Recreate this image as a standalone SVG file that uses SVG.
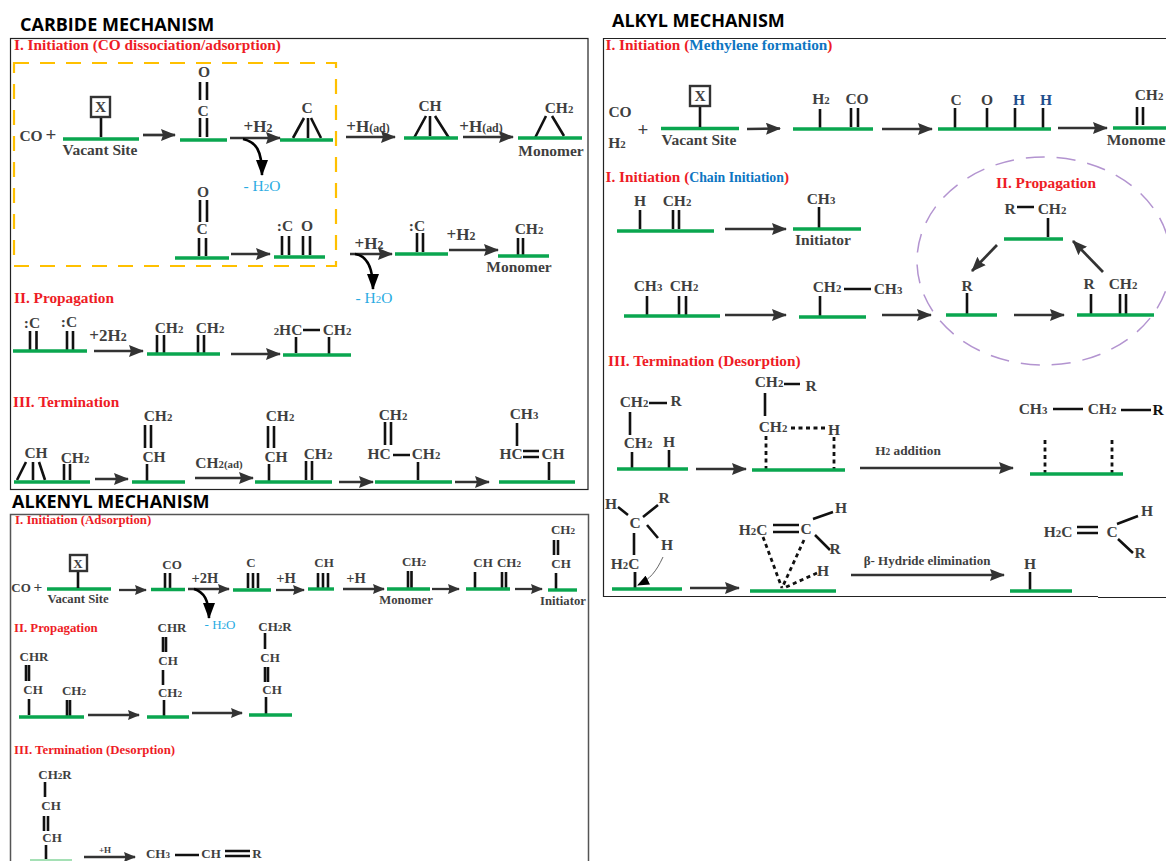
<svg xmlns="http://www.w3.org/2000/svg" width="1166" height="861" viewBox="0 0 1166 861">
<style>
text{font-family:"Liberation Serif","Times New Roman",serif;font-weight:700;fill:#3f3f3f;font-size:15.5px;text-anchor:middle}
.title{font-family:"Open Sans","Noto Sans",sans-serif;fill:#000;font-size:18px;text-anchor:start}
.h{fill:#ee1c25;text-anchor:start;font-size:15.300px}
.hs{font-size:12.800px}
.blue{fill:#0d76c2}
.cy{fill:#29abe2;font-weight:400}
.m{font-size:13px}
.sm{font-size:12.700px}
.l{font-size:17px}
.ls{font-size:14.500px}
.navy{fill:#1f4e8c}
.k{fill:#111}
tspan.u{font-size:70%}
.g{stroke:#0aa64f;stroke-width:3.400;fill:none}
.b{stroke:#111;stroke-width:2.600;fill:none}
.d{stroke:#111;stroke-width:2.800;fill:none;stroke-dasharray:4 3.500}
.a{stroke:#333;stroke-width:2.700;fill:none;marker-end:url(#ah)}
.as{stroke:#333;stroke-width:2.300;fill:none;marker-end:url(#as)}
.c{stroke:#000;stroke-width:2.600;fill:none;marker-end:url(#ac)}
.p{stroke:#222;stroke-width:1.200;fill:none}
.xb{fill:#fff;stroke:#333;stroke-width:2.400}
</style>
<defs>
<marker id="ah" markerUnits="userSpaceOnUse" markerWidth="16" markerHeight="12" refX="14" refY="6" orient="auto"><path d="M0 0L15 6L0 12L2 6Z" fill="#333"/></marker>
<marker id="as" markerUnits="userSpaceOnUse" markerWidth="12" markerHeight="10" refX="11" refY="5" orient="auto"><path d="M0 0L12 5L0 10L1.500 5Z" fill="#333"/></marker>
<marker id="ac" markerUnits="userSpaceOnUse" markerWidth="17" markerHeight="12" refX="15" refY="6" orient="auto"><path d="M0 0L16 6L0 12Z" fill="#000"/></marker>
<marker id="at" markerUnits="userSpaceOnUse" markerWidth="12" markerHeight="10" refX="11" refY="5" orient="auto"><path d="M0 0L12 5L0 10Z" fill="#000"/></marker>
</defs>
<rect width="1166" height="861" fill="#fff"/>

<g id="panels">
<rect class="p" x="10.500" y="38.500" width="577.500" height="451"/>
<path d="M10.500 870V514.500H588.500V870" fill="none" stroke="#555" stroke-width="1.500"/>
<path class="p" d="M1166 38.500H603.500V596.500H1098M1098 597.500H1166"/>
<path id="carbide-dashed-box" d="M14 63H336V266H14Z" fill="none" stroke="#ffc000" stroke-width="2.200" stroke-dasharray="15 11"/>
<ellipse id="propagation-circle" cx="1044" cy="261" rx="127" ry="104" fill="none" stroke="#b394d0" stroke-width="1.500" stroke-dasharray="19 12"/>
</g>

<g id="titles">
<text class="title" x="20" y="31">CARBIDE MECHANISM</text>
<text class="title" x="612" y="27">ALKYL MECHANISM</text>
<text class="title" x="12" y="508">ALKENYL MECHANISM</text>
</g>

<g id="carbide">
<text class="h" x="14" y="50">I. Initiation (CO dissociation/adsorption)</text>
<text class="h" x="14" y="303">II. Propagation</text>
<text class="h" x="13" y="407">III. Termination</text>
<g id="c-site"><text x="31" y="141">CO</text><text x="51" y="141" style="font-size:19px">+</text><path class="g" d="M63 139H139"/><path class="b" d="M101 118V137"/><rect class="xb" x="91" y="97" width="19" height="20"/><text x="100.500" y="112">X</text><text x="100" y="155">Vacant Site</text></g>
<g id="c-co"><text x="204" y="77">O</text><path class="b" d="M200 82V100M207 82V100M200 118V137M207 118V137"/><text x="203" y="116">C</text><path class="g" d="M180 140H227"/></g>
<g id="c-c"><text x="307" y="113">C</text><path class="b" d="M293 138L304 118M308 138V118M311 118L321 138"/><path class="g" d="M280 140H333"/></g>
<g id="c-ch"><text x="430" y="111">CH</text><path class="b" d="M414 138L426 116M430 136V116M435 116L449 138"/><path class="g" d="M404 138H458"/></g>
<g id="c-ch2"><text x="559" y="113">CH<tspan class="u">2</tspan></text><path class="b" d="M535 138L546 116M552 116L564 136"/><path class="g" d="M518 138H582"/><text x="551" y="156">Monomer</text></g>
<g id="c-co2"><text x="203" y="197">O</text><path class="b" d="M200 200V222M207 200V222M199 238V256M206 238V256"/><text x="202" y="234">C</text><path class="g" d="M175 258H229"/></g>
<g id="c-co-split"><text x="285" y="231">:C</text><text x="307" y="231">O</text><path class="b" d="M282 236V255M289 236V255M303 236V255M310 236V255"/><path class="g" d="M274 257H325"/></g>
<g id="c-carbene"><text x="417" y="231">:C</text><path class="b" d="M417 233V252M423 233V252"/><path class="g" d="M395 254H448"/></g>
<g id="c-ch2-b"><text x="529" y="234">CH<tspan class="u">2</tspan></text><path class="b" d="M518 238V255M523 238V255"/><path class="g" d="M498 256H549"/><text x="519" y="272">Monomer</text></g>
<g id="c-p1"><text x="32" y="328">:C</text><text x="69" y="327">:C</text><path class="b" d="M30 331V350M36.500 331V350M67 331V350M73 331V350"/><path class="g" d="M13 351H87"/></g>
<g id="c-p2"><text x="169" y="333">CH<tspan class="u">2</tspan></text><text x="210" y="333">CH<tspan class="u">2</tspan></text><path class="b" d="M157 335V353M164 335V353M198 335V353M204 335V353"/><path class="g" d="M147 354H220"/></g>
<g id="c-p3"><text x="288" y="335"><tspan class="u">2</tspan>HC</text><text x="337" y="335">CH<tspan class="u">2</tspan></text><path class="b" d="M303 330H320M296 337V353M329 337V355"/><path class="g" d="M283 355H351"/></g>
<g id="c-t1"><text x="36" y="458">CH</text><text x="75" y="463">CH<tspan class="u">2</tspan></text><path class="b" d="M17 480L26 462M33 480V462M39 462L45 480M64 464V480M70 464V480"/><path class="g" d="M14 482H90"/></g>
<g id="c-t2"><text x="158" y="421">CH<tspan class="u">2</tspan></text><path class="b" d="M145 425V448M151 425V448M147 464V481"/><text x="154" y="462">CH</text><path class="g" d="M132 482H185"/></g>
<g id="c-t3"><text x="280" y="421">CH<tspan class="u">2</tspan></text><path class="b" d="M268 426V448M274 426V448M269 464V481M306 461V480M312 461V480"/><text x="276" y="462">CH</text><text x="318" y="459">CH<tspan class="u">2</tspan></text><path class="g" d="M255 482H332"/></g>
<g id="c-t4"><text x="393" y="420">CH<tspan class="u">2</tspan></text><path class="b" d="M385 422V445M391 422V445M393 455H410M418 462V480"/><text x="379" y="459">HC</text><text x="426" y="459">CH<tspan class="u">2</tspan></text><path class="g" d="M375 482H452"/></g>
<g id="c-t5"><text x="524" y="419">CH<tspan class="u">3</tspan></text><path class="b" d="M517 423V446M523 451H539M523 457H539M549 462V480"/><text x="511" y="459">HC</text><text x="553" y="459">CH</text><path class="g" d="M499 482H575"/></g>
</g>

<g id="alkenyl">
<text class="h hs" x="15" y="524">I. Initiation (Adsorption)</text>
<text class="h hs" x="14" y="632">II. Propagation</text>
<text class="h hs" x="14" y="754">III. Termination (Desorption)</text>
<g id="e-site"><text class="m" x="21" y="592">CO</text><text x="38" y="592">+</text><path class="g" d="M47 589H111"/><path class="b" d="M78 572V588"/><rect class="xb" x="70" y="555" width="17" height="16"/><text class="m" x="78" y="568">X</text><text class="sm" x="78" y="603">Vacant Site</text></g>
<g id="e-co"><text class="m" x="172" y="569">CO</text><path class="b" d="M165 573V588M170 573V588"/><path class="g" d="M151 589.500H185"/></g>
<g id="e-c"><text class="m" x="251" y="567">C</text><path class="b" d="M248 573V588M253 573V588M258 573V588"/><path class="g" d="M233 590H271"/></g>
<g id="e-ch"><text class="m" x="324" y="567">CH</text><path class="b" d="M318 573V588M323 573V588M328 573V588"/><path class="g" d="M308 589H334"/></g>
<g id="e-ch2"><text class="m" x="414" y="566">CH<tspan class="u">2</tspan></text><path class="b" d="M408 571V588M411.500 571V588"/><path class="g" d="M387 589H430"/><text class="sm" x="406" y="604">Monomer</text></g>
<g id="e-chch2"><text class="m" x="483" y="567">CH</text><text class="m" x="509" y="567">CH<tspan class="u">2</tspan></text><path class="b" d="M475 572V588M502 572V588M506 572V588"/><path class="g" d="M466 589H510"/></g>
<g id="e-init"><text class="m" x="563" y="534">CH<tspan class="u">2</tspan></text><path class="b" d="M554 540V555M558 540V555M556 573V589"/><text class="m" x="561" y="568">CH</text><path class="g" d="M548 590H577"/><text class="sm" x="563" y="605">Initiator</text></g>
<g id="e-p1"><text class="m" x="34" y="661">CHR</text><path class="b" d="M26 665V681M29 665V681M29 699V715M67 700V716M70 700V716"/><text class="m" x="33" y="694">CH</text><text class="m" x="74" y="695">CH<tspan class="u">2</tspan></text><path class="g" d="M19 717H84"/></g>
<g id="e-p2"><text class="m" x="172" y="632">CHR</text><path class="b" d="M163 637V652M166 637V652M163 670V685M164 700V716"/><text class="m" x="168" y="665">CH</text><text class="m" x="170" y="697">CH<tspan class="u">2</tspan></text><path class="g" d="M147 717H189"/></g>
<g id="e-p3"><text class="m" x="275" y="631">CH<tspan class="u">2</tspan>R</text><path class="b" d="M265 633V649M265 667V682M268 667V682M266 697V714"/><text class="m" x="270" y="662">CH</text><text class="m" x="272" y="694">CH</text><path class="g" d="M249 715H292"/></g>
<g id="e-t1"><text class="m" x="55" y="779">CH<tspan class="u">2</tspan>R</text><path class="b" d="M45 782V797M44 816V831M48 816V831M46 845V860"/><text class="m" x="51" y="810">CH</text><text class="m" x="52" y="842">CH</text><path d="M30 860H72" stroke="#a5e0b5" stroke-width="2" fill="none"/></g>
<g id="e-t2"><text class="m" x="158" y="858">CH<tspan class="u">3</tspan></text><path class="b" d="M175 855H199M225 851H250M225 856H250"/><text class="m" x="211" y="858">CH</text><text class="m" x="257" y="858">R</text></g>
</g>

<g id="alkyl">
<text class="h" x="605.500" y="50">I. Initiation (<tspan class="blue">Methylene formation</tspan>)</text>
<text class="h" x="605.500" y="182">I. Initiation (<tspan class="blue" style="font-size:13.800px">Chain Initiation</tspan>)</text>
<text class="h" x="608" y="366">III. Termination (Desorption)</text>
<g id="a-site"><text x="620" y="117">CO</text><text x="617" y="148">H<tspan class="u">2</tspan></text><text x="643" y="136" style="font-size:19px">+</text><path class="g" d="M661 128.500H739"/><path class="b" d="M700 107V127"/><rect class="xb" x="690" y="86" width="20" height="20"/><text x="700" y="101">X</text><text x="699" y="145">Vacant Site</text></g>
<g id="a-h2co"><text x="821" y="104">H<tspan class="u">2</tspan></text><text x="857" y="104">CO</text><path class="b" d="M820 109V128M851 108V127M858 108V127"/><path class="g" d="M793 129H873"/></g>
<g id="a-atoms"><text x="956" y="105">C</text><text x="987" y="105">O</text><text class="navy" x="1019" y="105">H</text><text class="navy" x="1046" y="105">H</text><path class="b" d="M955 108V128M987 108V128M1015 108V128M1043 108V128"/><path class="g" d="M938 129H1051"/></g>
<g id="a-monomer"><text x="1149" y="100">CH<tspan class="u">2</tspan></text><path class="b" d="M1137 107V125M1143 107V125"/><path class="g" d="M1113 128H1166"/><text x="1136" y="145">Monome</text></g>
<g id="a-hch2"><text x="640" y="206">H</text><text x="677" y="206">CH<tspan class="u">2</tspan></text><path class="b" d="M640 210V229M673 210V229M679 210V229"/><path class="g" d="M617 231H714"/></g>
<g id="a-init"><text x="821" y="204">CH<tspan class="u">3</tspan></text><path class="b" d="M819 207V228"/><path class="g" d="M793 229H861"/><text x="823" y="245">Initiator</text></g>
<g id="a-ch3ch2"><text x="648" y="291">CH<tspan class="u">3</tspan></text><text x="684" y="291">CH<tspan class="u">2</tspan></text><path class="b" d="M647 296V315M679 296V315M686 296V315"/><path class="g" d="M624 316H720"/></g>
<g id="a-ethyl"><text x="827" y="292">CH<tspan class="u">2</tspan></text><text x="888" y="294">CH<tspan class="u">3</tspan></text><path class="b" d="M844 289H871M820 296V316"/><path class="g" d="M799 317H866"/></g>
<text class="h" x="996" y="188">II. Propagation</text>
<g id="a-rch2"><text x="1010" y="214">R</text><text x="1052" y="214">CH<tspan class="u">2</tspan></text><path class="b" d="M1017 207H1034M1048 218V237"/><path class="g" d="M1004 239H1063"/></g>
<g id="a-r"><text x="967" y="291">R</text><path class="b" d="M967 293V314"/><path class="g" d="M946 315H997"/></g>
<g id="a-r-ch2"><text x="1089" y="289">R</text><text x="1123" y="289">CH<tspan class="u">2</tspan></text><path class="b" d="M1091 294V314M1120 294V314M1126 294V314"/><path class="g" d="M1077 315H1154"/></g>
<g id="a-d1"><text x="634" y="407">CH<tspan class="u">2</tspan></text><path class="b" d="M649 403H667M630 412V435M632 452V468M669 450V468"/><text x="676" y="406">R</text><text x="638" y="448">CH<tspan class="u">2</tspan></text><text x="669" y="447">H</text><path class="g" d="M617 469H688"/></g>
<g id="a-d2"><text x="769" y="387">CH<tspan class="u">2</tspan></text><path class="b" d="M784 384H800M765 393V416"/><text x="811" y="391">R</text><text x="773" y="432">CH<tspan class="u">2</tspan></text><path class="d" d="M791 428H826M766 436V469M834 437V469"/><text x="834" y="435">H</text><path class="g" d="M752 470H845"/></g>
<text x="908" y="455" style="font-size:13.300px">H<tspan class="u">2</tspan> addition</text>
<g id="a-d3"><text x="1033" y="414">CH<tspan class="u">3</tspan></text><text x="1102" y="414">CH<tspan class="u">2</tspan></text><text class="k" x="1158" y="415">R</text><path class="b" d="M1053 409H1083M1121 410H1151"/><path class="d" d="M1045 440V473M1112 440V473"/><path class="g" d="M1030 474H1123"/></g>
<g id="a-b1"><text x="611" y="509">H</text><text x="664" y="503">R</text><text x="635" y="528">C</text><text x="667" y="550">H</text><text x="625" y="569">H<tspan class="u">2</tspan>C</text><path class="b" d="M618 507L628 515M658 505L643 517M647 525L658 538M634 533V555"/><path d="M635 572V588" stroke="#111" stroke-width="2.800" fill="none"/><path class="g" d="M612 589H682"/><path d="M663 557C656 572 650 579 638 585" stroke="#666" stroke-width="1" fill="none" marker-end="url(#at)"/></g>
<g id="a-b2"><text x="753" y="535">H<tspan class="u">2</tspan>C</text><text x="806" y="534">C</text><text x="841" y="513">H</text><text x="835" y="554">R</text><text x="823" y="576">H</text><path class="b" d="M773 525H799M773 532H799M813 519L833 512M815 535L830 550"/><path class="d" d="M763 537L782 588M804 540L782 588M817 573L784 588"/><path class="g" d="M750 591H836"/></g>
<text x="927" y="565" style="font-size:13px">β- Hydride elimination</text>
<g id="a-b3"><text x="1030" y="569">H</text><path class="b" d="M1030 572V590"/><path class="g" d="M1010 591H1072"/></g>
<g id="a-b4"><text x="1058" y="537">H<tspan class="u">2</tspan>C</text><text x="1112" y="537">C</text><text x="1147" y="516">H</text><text x="1140" y="558">R</text><path class="b" d="M1077 527H1098M1077 533H1098M1117 524L1138 516M1118 539L1133 553"/></g>
</g>

<g id="labels">
<text class="l" x="258" y="132">+H<tspan class="u">2</tspan></text>
<text class="l" x="368" y="132">+H<tspan class="u">(ad)</tspan></text>
<text class="l" x="481" y="132">+H<tspan class="u">(ad)</tspan></text>
<text class="cy" x="262" y="191">- H<tspan class="u">2</tspan>O</text>
<text class="l" x="369" y="249">+H<tspan class="u">2</tspan></text>
<text class="l" x="461" y="240">+H<tspan class="u">2</tspan></text>
<text class="cy" x="374" y="303">- H<tspan class="u">2</tspan>O</text>
<text class="l" x="108" y="341">+2H<tspan class="u">2</tspan></text>
<text x="219" y="468">CH<tspan class="u">2(ad)</tspan></text>
<text class="ls" x="205" y="583">+2H</text>
<text class="ls" x="286" y="583">+H</text>
<text class="ls" x="356" y="583">+H</text>
<text class="cy m" x="220" y="629">- H<tspan class="u">2</tspan>O</text>
<text x="105" y="853" style="font-size:9px">+H</text>
</g>

<g id="connectors">
<path class="a" d="M143 135H175"/><path class="a" d="M230 138H280"/><path class="a" d="M346 137H395"/><path class="a" d="M463 137H513"/>
<path class="c" d="M243 139C256 142 262 150 262 175"/>
<path class="a" d="M231 254H270"/><path class="a" d="M350 254H392"/><path class="a" d="M449 250H498"/>
<path class="c" d="M355 254C368 256 373 268 373 289"/>
<path class="a" d="M94 351H143"/><path class="a" d="M231 354H280"/>
<path class="a" d="M95 479H128"/><path class="a" d="M195 478H253"/><path class="a" d="M339 482H373"/><path class="a" d="M455 482H489"/>
<path class="as" d="M119 590H146"/><path class="as" d="M188 589H229"/><path class="as" d="M276 590H304"/><path class="as" d="M343 589H384"/><path class="as" d="M432 589H459"/><path class="as" d="M515 589H542"/>
<path class="c" d="M194 589C204 592 209 600 209 618"/>
<path class="as" d="M88 715H139"/><path class="as" d="M192 713H242"/><path class="as" d="M84 857H135"/>
<path class="a" d="M747 129L780 128.500"/><path class="a" d="M882 129H932"/><path class="a" d="M1058 128H1107"/>
<path class="a" d="M725 229H786"/><path class="a" d="M725 315H786"/><path class="a" d="M882 315H931"/>
<path class="a" d="M997 245L972 271"/><path class="a" d="M1103 272L1073 241"/><path class="a" d="M1014 315H1064"/>
<path class="a" d="M696 469H746"/><path class="a" d="M860 468H1013"/><path class="a" d="M690 588H739"/><path class="a" d="M851 575H1004"/>
</g>
</svg>
